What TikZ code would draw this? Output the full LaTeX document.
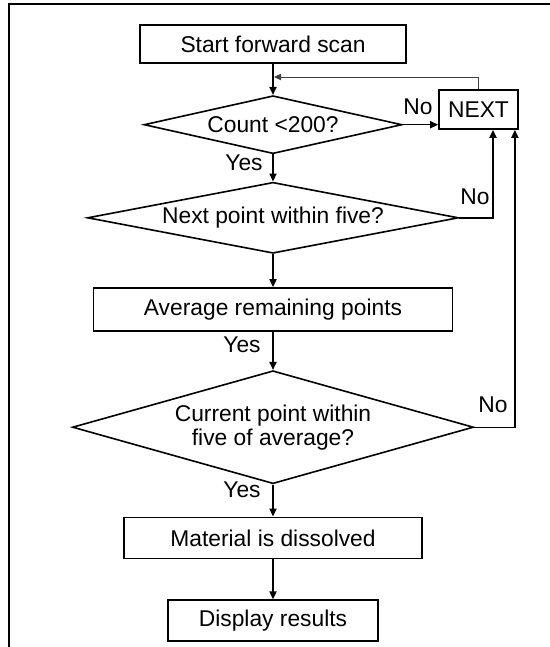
\documentclass[tikz,border=0pt]{standalone}
\usepackage{fontspec}
\setmainfont{Liberation Sans}
\usetikzlibrary{arrows.meta, positioning, shapes.geometric}
\tikzset{
  arrowK/.style={-{Triangle[length=4pt,width=3.6pt]}, black, line width=0.7pt},
  arrowT/.style={-{Triangle[length=3.5pt,width=3.2pt]}, black!75, line width=0.45pt},
  boxW/.style={rectangle, draw=black, line width=0.9pt, fill=white,
               align=center, inner sep=2pt},
  decW/.style={diamond, draw=black, line width=0.8pt, align=center, inner sep=0pt},
  lblY/.style={inner sep=1pt},
}

\begin{document}
\begin{tikzpicture}[x=0.5pt, y=-0.5pt, font=\fontsize{11.4}{12}\selectfont]
    \useasboundingbox (0,0) rectangle (550,647);
    \draw[line width=1.2pt] (9,647) -- (9,4) -- (550,4);
    % main chain
    \node[boxW, minimum width=133pt, minimum height=19pt] (start) at (273,44) {Start forward scan};
    \node[decW, aspect=4.4, minimum width=129pt, minimum height=29pt,
          below=15.5pt of start] (cnt) {Count <200?};
    \node[decW, aspect=5.2, minimum width=185.5pt, minimum height=35.5pt,
          below=13.5pt of cnt] (nxtpt) {Next point within five?};
    \node[boxW, minimum width=179.5pt, minimum height=21.5pt,
          below=16.5pt of nxtpt] (avg) {Average remaining points};
    \node[decW, aspect=3.5, minimum width=200.5pt, minimum height=56.5pt,
          below=19pt of avg] (cur) {Current point within\\five of average?};
    \node[boxW, minimum width=149pt, minimum height=20.5pt,
          below=16pt of cur] (mat) {Material is dissolved};
    \node[boxW, minimum width=105pt, minimum height=20.5pt,
          below=20pt of mat] (disp) {Display results};
    \node[boxW, minimum width=39.5pt, minimum height=19.5pt] (next) at (478.5,109.5) {NEXT};
    \coordinate (jn) at (274,77);
    % labels
    \node[lblY] (no1) at (418,107) {No};
    \node[lblY] (no2) at (475,197) {No};
    \node[lblY] (no3) at (493,405) {No};
    \node[lblY] (yes1) at (244,163) {Yes};
    \node[lblY] (yes2) at (242,345) {Yes};
    \node[lblY] (yes3) at (242,490) {Yes};
    % connectors
    \draw[arrowK] (start) -- (cnt);
    \draw[arrowK] (cnt) -- (nxtpt);
    \draw[arrowK] (nxtpt) -- (avg);
    \draw[arrowK] (avg) -- (cur);
    \draw[arrowK] (cur) -- (mat);
    \draw[arrowK] (mat) -- (disp);
    \draw[arrowK] (cnt.east) -- (cnt.east -| next.west);
    \draw[arrowT] (next.north) |- (jn);
    \draw[arrowK] (nxtpt.east) -| ([xshift=7.25pt]next.south);
    \draw[arrowK] (cur.east) -| ([xshift=-2pt]next.south east);
\end{tikzpicture}
\end{document}
